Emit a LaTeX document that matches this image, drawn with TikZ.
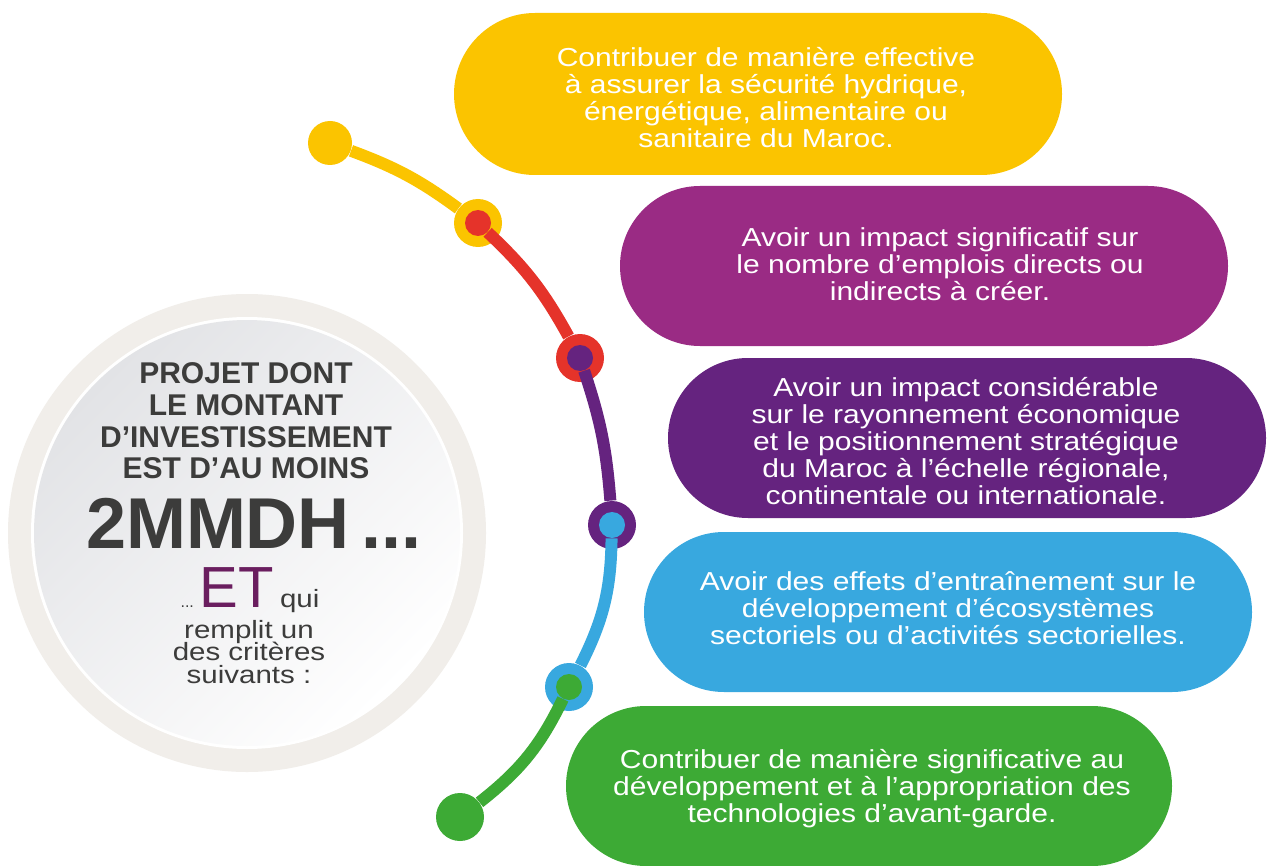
\documentclass[tikz,border=0pt]{standalone}
\usepackage{fontspec}
\setmainfont{Liberation Sans}
\newfontfamily\boxf[FakeStretch=1.155]{Liberation Sans}
\newfontfamily\subf[FakeStretch=1.18]{Liberation Sans}
\newcommand\tightls{\lineskiplimit=-100pt\relax}
\usetikzlibrary{shapes.misc}
\definecolor{cyel}{HTML}{FBC400}
\definecolor{cred}{HTML}{E5332A}
\definecolor{cmag}{HTML}{9A2B84}
\definecolor{cpur}{HTML}{65237F}
\definecolor{cblu}{HTML}{38A8DF}
\definecolor{cgrn}{HTML}{3DAA35}
\definecolor{cring}{HTML}{F1EEEA}
\definecolor{cdisk}{HTML}{E2E3E6}
\definecolor{ctxt}{HTML}{3C3C3B}
\definecolor{cet}{HTML}{6A1E5F}
\begin{document}
\begin{tikzpicture}[x=0.5pt,y=-0.5pt,
  pill/.style={rounded rectangle, minimum height=80pt, minimum width=304pt, inner sep=0pt, draw=none},
  ptext/.style={text=white, align=center, font=\boxf\fontsize{13pt}{13.5pt}\selectfont\tightls, inner sep=0pt},
  ringdot/.style={circle, minimum size=24pt, inner sep=0pt},
  coredot/.style={circle, minimum size=13pt, inner sep=0pt},
  seg/.style={line width=6pt},
  head/.style={text=ctxt, align=center, font=\bfseries\fontsize{15pt}{15.85pt}\selectfont\tightls, inner sep=0pt},
  sub/.style={text=ctxt, align=center, font=\subf\fontsize{12.5pt}{11.25pt}\selectfont\tightls, inner sep=0pt}]
\useasboundingbox[fill=white] (0,0) rectangle (1268,866);

% left circle
\node[circle, fill=cring, minimum size=239pt, inner sep=0pt] (outer) at (247,533) {};
\node[circle, fill=white, minimum size=216pt, inner sep=0pt] (gap) at (247,533) {};
\node[circle, top color=cdisk, bottom color=white, shading angle=45, minimum size=213pt, inner sep=0pt] (disk) at (247,533) {};

\node[head] (h1) at (246,421) {PROJET DONT\\LE MONTANT\\D’INVESTISSEMENT\\EST D’AU MOINS};
\node[anchor=base, text=ctxt, font=\bfseries\fontsize{36pt}{36pt}\selectfont, inner sep=0pt] (h2) at (254,548) {2MMDH\,...};
\node[anchor=base, text=ctxt, inner sep=0pt] (h3) at (250,607) {{\fontsize{8pt}{8pt}\selectfont ...}\hspace{3pt}{\color{cet}\fontsize{29pt}{29pt}\selectfont ET}\hspace{3pt}{\subf\fontsize{12.5pt}{12.5pt}\selectfont qui}};
\node[sub] (h4) at (249,652) {remplit un\\des critères\\suivants :};

% boxes
\node[pill, fill=cyel, minimum height=81pt] (b1) at (758,94) {};
\node[pill, fill=cmag] (b2) at (924,266) {};
\node[pill, fill=cpur, minimum width=299pt] (b3) at (967,438) {};
\node[pill, fill=cblu] (b4) at (948,612) {};
\node[pill, fill=cgrn, minimum width=303pt] (b5) at (869,786) {};

\node[ptext] (t1) at (766,98) {Contribuer de manière effective\\à assurer la sécurité hydrique,\\énergétique, alimentaire ou\\sanitaire du Maroc.};
\node[ptext] (t2) at (940,264) {Avoir un impact significatif sur\\le nombre d’emplois directs ou\\indirects à créer.};
\node[ptext] (t3) at (966,441) {Avoir un impact considérable\\sur le rayonnement économique\\et le positionnement stratégique\\du Maroc à l’échelle régionale,\\continentale ou internationale.};
\node[ptext] (t4) at (948,608) {Avoir des effets d’entraînement sur le\\développement d’écosystèmes\\sectoriels ou d’activités sectorielles.};
\node[ptext] (t5) at (872,789) {Contribuer de manière significative au\\développement et à l’appropriation des\\technologies d’avant-garde.};

% timeline dots
\node[circle, fill=cyel, minimum size=22pt, inner sep=0pt] (d0) at (330,143) {};
\node[ringdot, fill=cyel] (r1) at (478,223) {};
\node[coredot, fill=cred] (c1) at (478,223) {};
\node[ringdot, fill=cred] (r2) at (580,358) {};
\node[coredot, fill=cpur] (c2) at (580,358) {};
\node[ringdot, fill=cpur] (r3) at (612,525) {};
\node[coredot, fill=cblu] (c3) at (612,525) {};
\node[ringdot, fill=cblu] (r4) at (569,687) {};
\node[coredot, fill=cgrn] (c4) at (569,687) {};
\node[circle, fill=cgrn, minimum size=24pt, inner sep=0pt] (d5) at (460,817) {};

% connectors
\draw[seg, cyel] (d0) to[bend left=8] (r1);
\draw[seg, cred] (c1) to[bend left=9] (r2);
\draw[seg, cpur] (c2) to[bend left=7] (r3);
\draw[seg, cblu] (c3) to[bend left=13] (r4);
\draw[seg, cgrn] (c4) to[bend left=13] (d5);
\end{tikzpicture}
\end{document}
